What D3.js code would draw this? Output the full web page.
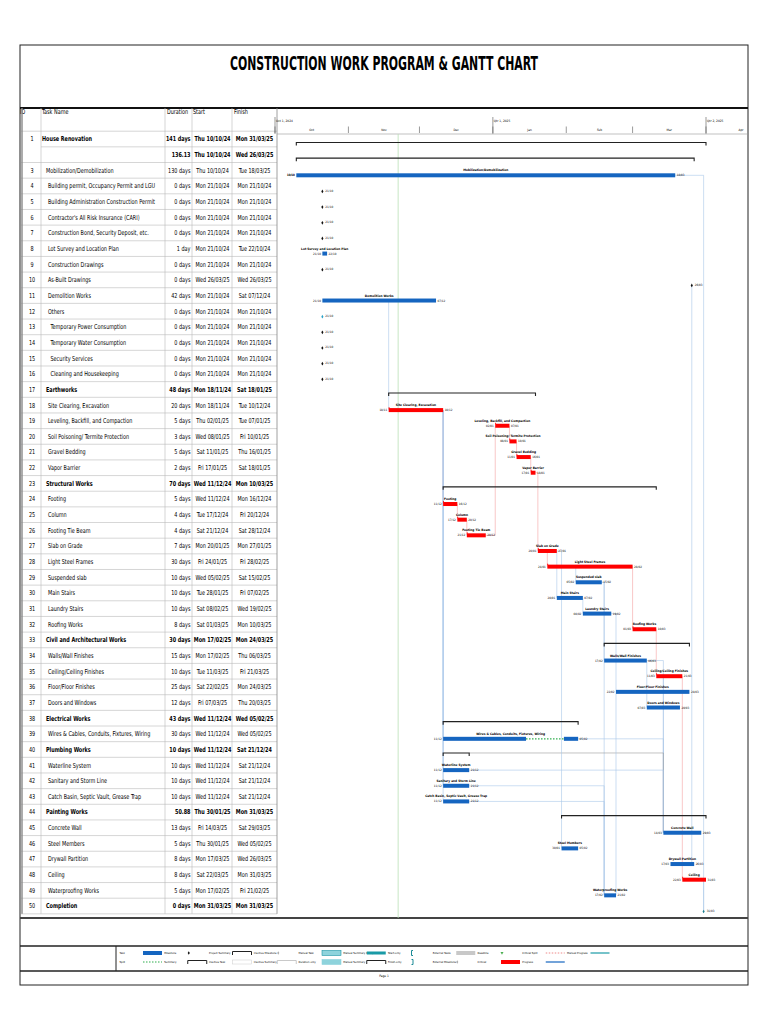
<!DOCTYPE html>
<html>
<head>
<meta charset="utf-8">
<script src="https://cdn.jsdelivr.net/npm/d3@7"></script>
<style>
  body { margin: 0; background: #fff; }
  svg text { font-family: "Liberation Sans Narrow", "DejaVu Sans Condensed", sans-serif; fill: #000; }
</style>
</head>
<body>
<svg id="chart" width="768" height="1024"></svg>
<script>
// ---- table data ----
const rowIds = ["1", "", "3", "4", "5", "6", "7", "8", "9", "10", "11", "12", "13", "14", "15", "16", "17", "18", "19", "20",
  "21", "22", "23", "24", "25", "26", "27", "28", "29", "30", "31", "32", "33", "34", "35", "36", "37", "38", "39", "40",
  "41", "42", "43", "44", "45", "46", "47", "48", "49", "50"];
const taskNames = ["House Renovation", "", "Mobilization/Demobilization", "Building permit, Occupancy Permit and LGU",
  "Building Administration Construction Permit", "Contractor's All Risk Insurance (CARI)", "Construction Bond, Security Deposit, etc.",
  "Lot Survey and Location Plan", "Construction Drawings", "As-Built Drawings", "Demolition Works", "Others",
  "Temporary Power Consumption", "Temporary Water Consumption", "Security Services", "Cleaning and Housekeeping",
  "Earthworks", "Site Clearing, Excavation", "Leveling, Backfill, and Compaction", "Soil Poisoning/ Termite Protection",
  "Gravel Bedding", "Vapor Barrier", "Structural Works", "Footing", "Column", "Footing Tie Beam", "Slab on Grade",
  "Light Steel Frames", "Suspended slab", "Main Stairs", "Laundry Stairs", "Roofing Works", "Civil and Architectural Works",
  "Walls/Wall Finishes", "Ceiling/Ceiling Finishes", "Floor/Floor Finishes", "Doors and Windows", "Electrical Works",
  "Wires & Cables, Conduits, Fixtures, Wiring", "Plumbing Works", "Waterline System", "Sanitary and Storm Line",
  "Catch Basin, Septic Vault, Grease Trap", "Painting Works", "Concrete Wall", "Steel Members", "Drywall Partition",
  "Ceiling", "Waterproofing Works", "Completion"];
const durations = ["141 days", "136.13", "130 days", "0 days", "0 days", "0 days", "0 days", "1 day", "0 days", "0 days",
  "42 days", "0 days", "0 days", "0 days", "0 days", "0 days", "48 days", "20 days", "5 days", "3 days", "5 days", "2 days",
  "70 days", "5 days", "4 days", "4 days", "7 days", "30 days", "10 days", "10 days", "10 days", "8 days", "30 days",
  "15 days", "10 days", "25 days", "12 days", "43 days", "30 days", "10 days", "10 days", "10 days", "10 days", "50.88",
  "13 days", "5 days", "8 days", "8 days", "5 days", "0 days"];
const starts = ["Thu 10/10/24", "Thu 10/10/24", "Thu 10/10/24", "Mon 21/10/24", "Mon 21/10/24", "Mon 21/10/24",
  "Mon 21/10/24", "Mon 21/10/24", "Mon 21/10/24", "Wed 26/03/25", "Mon 21/10/24", "Mon 21/10/24", "Mon 21/10/24",
  "Mon 21/10/24", "Mon 21/10/24", "Mon 21/10/24", "Mon 18/11/24", "Mon 18/11/24", "Thu 02/01/25", "Wed 08/01/25",
  "Sat 11/01/25", "Fri 17/01/25", "Wed 11/12/24", "Wed 11/12/24", "Tue 17/12/24", "Sat 21/12/24", "Mon 20/01/25",
  "Fri 24/01/25", "Wed 05/02/25", "Tue 28/01/25", "Sat 08/02/25", "Sat 01/03/25", "Mon 17/02/25", "Mon 17/02/25",
  "Tue 11/03/25", "Sat 22/02/25", "Fri 07/03/25", "Wed 11/12/24", "Wed 11/12/24", "Wed 11/12/24", "Wed 11/12/24",
  "Wed 11/12/24", "Wed 11/12/24", "Thu 30/01/25", "Fri 14/03/25", "Thu 30/01/25", "Mon 17/03/25", "Sat 22/03/25",
  "Mon 17/02/25", "Mon 31/03/25"];
const finishes = ["Mon 31/03/25", "Wed 26/03/25", "Tue 18/03/25", "Mon 21/10/24", "Mon 21/10/24", "Mon 21/10/24",
  "Mon 21/10/24", "Tue 22/10/24", "Mon 21/10/24", "Wed 26/03/25", "Sat 07/12/24", "Mon 21/10/24", "Mon 21/10/24",
  "Mon 21/10/24", "Mon 21/10/24", "Mon 21/10/24", "Sat 18/01/25", "Tue 10/12/24", "Tue 07/01/25", "Fri 10/01/25",
  "Thu 16/01/25", "Sat 18/01/25", "Mon 10/03/25", "Mon 16/12/24", "Fri 20/12/24", "Sat 28/12/24", "Mon 27/01/25",
  "Fri 28/02/25", "Sat 15/02/25", "Fri 07/02/25", "Wed 19/02/25", "Mon 10/03/25", "Mon 24/03/25", "Thu 06/03/25",
  "Fri 21/03/25", "Mon 24/03/25", "Thu 20/03/25", "Wed 05/02/25", "Wed 05/02/25", "Sat 21/12/24", "Sat 21/12/24",
  "Sat 21/12/24", "Sat 21/12/24", "Mon 31/03/25", "Sat 29/03/25", "Wed 05/02/25", "Wed 26/03/25", "Mon 31/03/25",
  "Fri 21/02/25", "Mon 31/03/25"];
const indents = [0, 0, 1, 2, 2, 2, 2, 2, 2, 2, 2, 2, 3, 3, 3, 3, 1, 2, 2, 2, 2, 2, 1, 2, 2, 2, 2, 2, 2, 2, 2, 2, 1, 2, 2, 2, 2,
  1, 2, 1, 2, 2, 2, 1, 2, 2, 2, 2, 2, 1];
// S summary, T task, C critical task, M milestone
const kinds = "SSTMMMMTMMTMMMMMSCCCCCSCCCCCTTTCSTCTTSTSTTTSTTTCTM".split("");

// split of the wiring task (blue / idle / blue)
const splitRow = 38;
const splitDates = ["11/12/24", "15/01/25", "31/01/25", "06/02/25"];

// links: predecessor index -> successor index
const linkFrom = [2, 10, 17, 17, 17, 17, 17, 23, 24, 25, 18, 19, 20, 21, 26, 26, 29, 27, 27, 28, 28, 30, 33, 33, 31, 34, 34, 46, 38, 39, 40, 41, 42, 48, 47, 26];
const linkTo   = [49, 17, 23, 38, 40, 41, 42, 24, 25, 18, 19, 20, 21, 26, 27, 29, 30, 28, 31, 33, 48, 35, 36, 44, 34, 47, 44, 9, 44, 44, 44, 48, 48, 35, 49, 45];

// timeline ticks
const quarterTicks = ["2024-10-01", "2025-01-01", "2025-04-01"];
const quarterLabels = ["Oct 1, 2024", "Qtr 1, 2025", "Qtr 2, 2025"];
const monthTicks = ["2024-10-01", "2024-11-01", "2024-12-01", "2025-01-01", "2025-02-01", "2025-03-01", "2025-04-01", "2025-05-01"];
const monthLabels = ["Oct", "Nov", "Dec", "Jan", "Feb", "Mar", "Apr"];
const statusDate = "2024-11-22";

// legend
const legendTop = ["Task", "Milestone", "Project Summary", "Inactive Milestone", "Manual Task", "Manual Summary Rollup",
  "Start-only", "External Tasks", "Deadline", "Critical Split", "Manual Progress"];
const legendBottom = ["Split", "Summary", "Inactive Task", "Inactive Summary", "Duration-only", "Manual Summary",
  "Finish-only", "External Milestone", "Critical", "Progress"];

// ---- drawing ----
const svg = d3.select("#chart");
const parseD = d3.timeParse("%d/%m/%y");
const parseIso = d3.timeParse("%Y-%m-%d");
const toDate = s => parseD(s.length > 8 ? s.slice(4) : s);
const nextDay = d => d3.timeDay.offset(d, 1);
const fmt = d3.timeFormat("%d/%m");

const x = d3.scaleTime()
  .domain([parseIso("2024-10-01"), parseIso("2025-04-01")])
  .range([275, 706]);
const y = d3.scaleLinear().domain([0, 49]).range([139, 906]);

const BLUE = "#1565c0", RED = "#ff0000";
const tableLeft = 21, colEdges = [41, 165, 192, 232, 277];
const SQ = 0.8; // horizontal squeeze of table text (narrow font look)

// page frame
svg.append("rect").attr("x", 20).attr("y", 45).attr("width", 728).attr("height", 940)
  .attr("fill", "none").attr("stroke", "#222").attr("stroke-width", 1);
svg.append("text").attr("x", 384).attr("y", 70).attr("text-anchor", "middle")
  .attr("font-size", 20).attr("font-weight", "bold")
  .attr("textLength", 308).attr("lengthAdjust", "spacingAndGlyphs")
  .text("CONSTRUCTION WORK PROGRAM & GANTT CHART");
svg.append("line").attr("x1", 20).attr("x2", 748).attr("y1", 108).attr("y2", 108)
  .attr("stroke", "#111").attr("stroke-width", 2);
svg.append("line").attr("x1", 20).attr("x2", 748).attr("y1", 918).attr("y2", 918)
  .attr("stroke", "#444").attr("stroke-width", 2);

// ---- table ----
const table = svg.append("g").attr("class", "table");
const headers = ["ID", "Task Name", "Duration", "Start", "Finish"];
const headerX = [20, 42, 167, 193, 234];
table.selectAll("text.head").data(headers).join("text")
  .attr("class", "head")
  .attr("transform", (d, i) => `translate(${headerX[i]},114) scale(${SQ},1)`)
  .attr("font-size", 6.8).text(d => d);

const rowTop = i => y(i) - 7.8;
// horizontal grid lines
table.selectAll("line.rowline").data(d3.range(51).filter(i => i !== 1)).join("line")
  .attr("class", "rowline")
  .attr("x1", tableLeft).attr("x2", colEdges[4])
  .attr("y1", i => i === 0 ? 131.2 : rowTop(i)).attr("y2", i => i === 0 ? 131.2 : rowTop(i))
  .attr("stroke", "#bbb").attr("stroke-width", 0.6);
table.append("line").attr("x1", colEdges[0]).attr("x2", colEdges[4]).attr("y1", rowTop(1)).attr("y2", rowTop(1))
  .attr("stroke", "#bbb").attr("stroke-width", 0.6);
// column lines
table.selectAll("line.colline").data(colEdges).join("line")
  .attr("class", "colline")
  .attr("x1", d => d).attr("x2", d => d).attr("y1", 108).attr("y2", rowTop(50))
  .attr("stroke", (d, i) => i === 4 ? "#888" : "#bbb").attr("stroke-width", (d, i) => i === 4 ? 0.8 : 0.6);
table.append("line").attr("x1", tableLeft + 1).attr("x2", tableLeft + 1).attr("y1", 108).attr("y2", rowTop(50))
  .attr("stroke", "#888").attr("stroke-width", 1.4);

const rows = table.selectAll("g.row").data(d3.range(50)).join("g")
  .attr("class", "row")
  .attr("font-size", 6.8)
  .attr("font-weight", i => kinds[i] === "S" || i === 49 ? "bold" : "normal");
const cell = (sel, xf, anchor, textf) => sel.append("text")
  .attr("transform", i => `translate(${xf(i)},${y(i) + 2.4}) scale(${SQ},1)`)
  .attr("text-anchor", anchor).text(textf);
cell(rows, () => 32, "middle", i => rowIds[i]).attr("font-weight", "normal");
cell(rows, i => [42, 46, 48, 50.5][indents[i]], "start", i => taskNames[i]);
cell(rows, () => 190.5, "end", i => durations[i]);
cell(rows, () => 212.5, "middle", i => starts[i]);
cell(rows, () => 254.5, "middle", i => finishes[i]);

// ---- timeline header ----
const gantt = svg.append("g").attr("class", "gantt");
gantt.selectAll("line.qtick").data(quarterTicks).join("line")
  .attr("class", "qtick")
  .attr("x1", d => x(parseIso(d))).attr("x2", d => x(parseIso(d)))
  .attr("y1", 117).attr("y2", 134).attr("stroke", "#555").attr("stroke-width", 0.6);
gantt.selectAll("text.qlab").data(quarterTicks).join("text")
  .attr("class", "qlab")
  .attr("x", d => x(parseIso(d)) + 1).attr("y", 122).attr("font-size", 3.2)
  .text((d, i) => quarterLabels[i]);
const monthDates = monthTicks.map(parseIso);
gantt.selectAll("line.mtick").data(monthDates).join("line")
  .attr("class", "mtick")
  .attr("x1", d => x(d)).attr("x2", d => x(d)).attr("y1", 126.5).attr("y2", 133)
  .attr("stroke", "#555").attr("stroke-width", 0.6);
gantt.selectAll("text.mlab").data(monthLabels).join("text")
  .attr("class", "mlab")
  .attr("x", (d, i) => Math.min((x(monthDates[i]) + x(monthDates[i + 1])) / 2, 741)).attr("y", 131)
  .attr("text-anchor", "middle").attr("font-size", 3.2).text(d => d);
gantt.append("line").attr("x1", colEdges[4]).attr("x2", 748).attr("y1", 134).attr("y2", 134)
  .attr("stroke", "#999").attr("stroke-width", 0.6);

// status line
gantt.append("line")
  .attr("x1", x(parseIso(statusDate))).attr("x2", x(parseIso(statusDate)))
  .attr("y1", 134).attr("y2", 918).attr("stroke", "#b9e0b4").attr("stroke-width", 0.8);

const startX = i => x(toDate(starts[i]));
const endX = i => kinds[i] === "M" ? x(toDate(finishes[i])) : x(nextDay(toDate(finishes[i])));
const barY = i => kinds[i] === "S" ? y(i) + 3.5 : y(i) + 5;

// dependency links
gantt.selectAll("path.link").data(d3.range(linkFrom.length)).join("path")
  .attr("class", "link")
  .attr("d", k => {
    const a = linkFrom[k], b = linkTo[k];
    return `M${endX(a)},${barY(a)}H${startX(b)}V${barY(b)}`;
  })
  .attr("fill", "none")
  .attr("stroke", k => kinds[linkFrom[k]] === "S" ? "#9a9a9a"
    : kinds[linkFrom[k]] === "C" && kinds[linkTo[k]] === "C" ? "#f5a3a3" : "#a9c8ea")
  .attr("stroke-width", 0.6);

// summary brackets
const sums = d3.range(50).filter(i => kinds[i] === "S");
gantt.selectAll("path.sum").data(sums).join("path")
  .attr("class", "sum")
  .attr("d", i => `M${startX(i)},${y(i) + 6.5}V${y(i) + 3.5}H${endX(i)}V${y(i) + 6.5}`)
  .attr("fill", "none").attr("stroke", "#222").attr("stroke-width", 1.1);

// task bars
const tasks = d3.range(50).filter(i => (kinds[i] === "T" || kinds[i] === "C") && i !== splitRow);
gantt.selectAll("rect.bar").data(tasks).join("rect")
  .attr("class", "bar")
  .attr("x", i => startX(i)).attr("y", i => barY(i) - 2)
  .attr("width", i => endX(i) - startX(i)).attr("height", 4)
  .attr("fill", i => kinds[i] === "C" ? RED : BLUE);
gantt.selectAll("rect.flag").data(tasks.filter(i => kinds[i] === "C")).join("rect")
  .attr("class", "flag")
  .attr("x", i => startX(i)).attr("y", i => barY(i) - 3).attr("width", 0.8).attr("height", 1.5)
  .attr("fill", RED);

// split task
const sp = splitDates.map(parseD);
gantt.append("rect").attr("x", x(sp[0])).attr("y", barY(splitRow) - 2)
  .attr("width", x(sp[1]) - x(sp[0])).attr("height", 4).attr("fill", BLUE);
gantt.append("rect").attr("x", x(sp[2])).attr("y", barY(splitRow) - 2)
  .attr("width", x(sp[3]) - x(sp[2])).attr("height", 4).attr("fill", BLUE);
gantt.append("line").attr("x1", x(sp[1])).attr("x2", x(sp[2]))
  .attr("y1", barY(splitRow)).attr("y2", barY(splitRow))
  .attr("stroke", "#2fae4e").attr("stroke-width", 1.2).attr("stroke-dasharray", "1.5,1.5");

// milestones
const miles = d3.range(50).filter(i => kinds[i] === "M");
gantt.selectAll("path.mile").data(miles).join("path")
  .attr("class", "mile")
  .attr("d", d3.symbol(d3.symbolDiamond, 4))
  .attr("transform", i => `translate(${startX(i)},${barY(i) + 0.5})`)
  .attr("fill", i => i === 11 ? "#29a3c9" : i === 49 ? "#1b7f8f" : "#111");

// labels
const labelled = tasks.concat([splitRow]);
gantt.selectAll("text.name").data(labelled).join("text")
  .attr("class", "name")
  .attr("x", i => (startX(i) + endX(i)) / 2).attr("y", i => barY(i) - 4)
  .attr("text-anchor", "middle").attr("font-size", 3.2).attr("font-weight", "bold")
  .text(i => taskNames[i]);
gantt.selectAll("text.dl").data(labelled.concat([2])).join("text")
  .attr("class", "dl")
  .attr("x", i => startX(i) - 1.5).attr("y", i => barY(i) + 1)
  .attr("text-anchor", "end").attr("font-size", 3).attr("fill", "#333")
  .text(i => fmt(toDate(starts[i])));
gantt.selectAll("text.dr").data(labelled.concat(miles)).join("text")
  .attr("class", "dr")
  .attr("x", i => endX(i) + (kinds[i] === "M" ? 3 : 1.5)).attr("y", i => barY(i) + 1)
  .attr("font-size", 3).attr("fill", "#333")
  .text(i => fmt(toDate(finishes[i])));

// ---- legend ----
const legend = svg.append("g").attr("class", "legend");
legend.append("line").attr("x1", 20).attr("x2", 748).attr("y1", 946).attr("y2", 946)
  .attr("stroke", "#222").attr("stroke-width", 1.5);
legend.append("line").attr("x1", 20).attr("x2", 748).attr("y1", 971).attr("y2", 971)
  .attr("stroke", "#222").attr("stroke-width", 1.5);
legend.append("line").attr("x1", 116).attr("x2", 116).attr("y1", 946).attr("y2", 971)
  .attr("stroke", "#222").attr("stroke-width", 1);
const legX = d3.scaleLinear().domain([0, 10]).range([119.5, 567]);
const legRows = [legendTop, legendBottom];
legRows.forEach((labels, r) => {
  const ly = r === 0 ? 953 : 962;
  legend.selectAll(`text.l${r}`).data(labels).join("text")
    .attr("class", `l${r}`)
    .attr("x", (d, i) => legX(i)).attr("y", ly + 1).attr("font-size", 2.8).text(d => d);
  labels.forEach((key, i) => {
    const sx = legX(i) + 23.5, g = legend.append("g");
    if (key === "Task") g.append("rect").attr("x", sx).attr("y", ly - 2).attr("width", 19).attr("height", 4).attr("fill", BLUE);
    else if (key === "Critical") g.append("rect").attr("x", sx).attr("y", ly - 2).attr("width", 19).attr("height", 4).attr("fill", RED);
    else if (key === "Split") g.append("line").attr("x1", sx).attr("x2", sx + 19).attr("y1", ly).attr("y2", ly)
      .attr("stroke", "#2fae4e").attr("stroke-width", 1.2).attr("stroke-dasharray", "1.5,1.5");
    else if (key === "Critical Split") g.append("line").attr("x1", sx).attr("x2", sx + 19).attr("y1", ly).attr("y2", ly)
      .attr("stroke", "#f08a8a").attr("stroke-width", 1.2).attr("stroke-dasharray", "1.5,1.5");
    else if (key === "Milestone" || key === "External Milestone" || key === "Inactive Milestone")
      g.append("path").attr("d", d3.symbol(d3.symbolDiamond, 4)).attr("transform", `translate(${sx + 1},${ly})`)
        .attr("fill", key === "Milestone" ? "#111" : "#aaa");
    else if (key === "Deadline") g.append("path").attr("d", d3.symbol(d3.symbolTriangle, 4))
      .attr("transform", `translate(${sx + 1},${ly}) rotate(180)`).attr("fill", "#4caf50");
    else if (key === "Summary" || key === "Project Summary" || key === "Manual Summary")
      g.append("path").attr("d", `M${sx},${ly + 2}V${ly - 1.5}H${sx + 19}V${ly + 2}`)
        .attr("fill", "none").attr("stroke", "#222").attr("stroke-width", 1);
    else if (key === "Inactive Summary")
      g.append("path").attr("d", `M${sx},${ly + 2}V${ly - 1.5}H${sx + 19}V${ly + 2}`)
        .attr("fill", "none").attr("stroke", "#bbb").attr("stroke-width", 0.8);
    else if (key === "Inactive Task")
      g.append("rect").attr("x", sx).attr("y", ly - 2).attr("width", 19).attr("height", 4)
        .attr("fill", "#fff").attr("stroke", "#ccc").attr("stroke-width", 0.5);
    else if (key === "Manual Task" || key === "Duration-only")
      g.append("rect").attr("x", sx).attr("y", ly - 2.5).attr("width", 19).attr("height", 5)
        .attr("fill", "#8ed3dc").attr("stroke", key === "Manual Task" ? "#1c95a6" : "#8ed3dc").attr("stroke-width", 0.6);
    else if (key === "Manual Summary Rollup")
      g.append("rect").attr("x", sx).attr("y", ly - 1.5).attr("width", 19).attr("height", 3).attr("fill", "#1a9aa6");
    else if (key === "Start-only" || key === "Finish-only")
      g.append("path").attr("d", key === "Start-only" ? `M${sx + 1.5},${ly - 2.5}H${sx}V${ly + 2.5}H${sx + 1.5}` : `M${sx},${ly - 2.5}H${sx + 1.5}V${ly + 2.5}H${sx}`)
        .attr("fill", "none").attr("stroke", "#1a8a96").attr("stroke-width", 1);
    else if (key === "External Tasks")
      g.append("rect").attr("x", sx).attr("y", ly - 2).attr("width", 19).attr("height", 4).attr("fill", "#c8c8c8");
    else if (key === "Manual Progress")
      g.append("line").attr("x1", sx).attr("x2", sx + 19).attr("y1", ly).attr("y2", ly)
        .attr("stroke", "#1a9aa6").attr("stroke-width", 1.2);
    else if (key === "Progress")
      g.append("line").attr("x1", sx).attr("x2", sx + 19).attr("y1", ly).attr("y2", ly)
        .attr("stroke", BLUE).attr("stroke-width", 1.2);
  });
});
svg.append("text").attr("x", 384).attr("y", 977).attr("text-anchor", "middle")
  .attr("font-size", 3.2).text("Page 1");
</script>
</body>
</html>
